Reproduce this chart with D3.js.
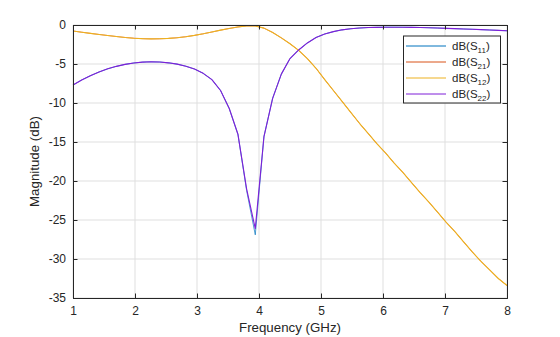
<!DOCTYPE html>
<html>
<head>
<meta charset="utf-8">
<script src="https://cdn.jsdelivr.net/npm/d3@7/dist/d3.min.js"></script>
<style>
  html, body { margin: 0; padding: 0; background: #fff; }
  svg { display: block; font-family: "Liberation Sans", Arial, Helvetica, sans-serif; }
</style>
</head>
<body>
<svg id="chart" width="560" height="337"></svg>
<script>
// Frequency sweep (GHz)
const freq = [1.00,1.14,1.28,1.42,1.56,1.70,1.84,1.98,2.12,2.26,2.40,2.54,2.68,2.82,2.96,3.10,3.24,3.38,3.52,3.66,
              3.80,3.94,4.08,4.22,4.36,4.50,4.64,4.78,4.92,5.06,5.20,5.34,5.48,5.62,5.76,5.90,6.04,6.18,6.32,6.46,
              6.60,6.74,6.88,7.02,7.16,7.30,7.44,7.58,7.72,7.86,8.00];

// Reflection, port 1 (dB)
const s11 = [-7.70,-7.05,-6.50,-6.02,-5.62,-5.30,-5.05,-4.87,-4.76,-4.72,-4.75,-4.85,-5.02,-5.28,-5.65,-6.20,-7.00,-8.40,-10.70,-14.00,
             -21.20,-26.90,-14.30,-9.40,-6.30,-4.30,-3.20,-2.30,-1.60,-1.15,-0.85,-0.62,-0.48,-0.39,-0.33,-0.30,-0.28,-0.28,-0.29,-0.30,
             -0.32,-0.35,-0.39,-0.43,-0.47,-0.51,-0.55,-0.59,-0.64,-0.69,-0.74];

// Transmission 2 -> 1 (dB)
const s21 = [-0.77,-0.92,-1.07,-1.21,-1.35,-1.48,-1.60,-1.69,-1.75,-1.78,-1.77,-1.72,-1.63,-1.50,-1.33,-1.13,-0.90,-0.66,-0.44,-0.25,
             -0.12,-0.12,-0.40,-0.95,-1.65,-2.40,-3.25,-4.30,-5.55,-7.00,-8.40,-9.80,-11.20,-12.60,-13.90,-15.20,-16.40,-17.70,-18.90,-20.20,
             -21.50,-22.70,-24.00,-25.30,-26.50,-27.80,-29.10,-30.30,-31.40,-32.50,-33.40];

// Transmission 1 -> 2 (dB)
const s12 = [-0.77,-0.92,-1.07,-1.21,-1.35,-1.48,-1.60,-1.69,-1.75,-1.78,-1.77,-1.72,-1.63,-1.50,-1.33,-1.13,-0.90,-0.66,-0.44,-0.25,
             -0.12,-0.12,-0.40,-0.95,-1.65,-2.40,-3.25,-4.30,-5.55,-7.00,-8.40,-9.80,-11.20,-12.60,-13.90,-15.20,-16.40,-17.70,-18.90,-20.20,
             -21.50,-22.70,-24.00,-25.30,-26.50,-27.80,-29.10,-30.30,-31.40,-32.50,-33.40];

// Reflection, port 2 (dB)
const s22 = [-7.70,-7.05,-6.50,-6.02,-5.62,-5.30,-5.05,-4.87,-4.76,-4.72,-4.75,-4.85,-5.02,-5.28,-5.65,-6.20,-7.00,-8.40,-10.70,-14.00,
             -21.00,-26.10,-14.30,-9.40,-6.30,-4.30,-3.20,-2.30,-1.60,-1.15,-0.85,-0.62,-0.48,-0.39,-0.33,-0.30,-0.28,-0.28,-0.29,-0.30,
             -0.32,-0.35,-0.39,-0.43,-0.47,-0.51,-0.55,-0.59,-0.64,-0.69,-0.74];

const xTicks = [1, 2, 3, 4, 5, 6, 7, 8];
const yTicks = [0, -5, -10, -15, -20, -25, -30, -35];

const seriesSubs = ["11", "21", "12", "22"];
const seriesColors = ["#0072BD", "#D95319", "#EDB120", "#7E1FD8"];
const seriesValues = [s11, s21, s12, s22];
// later traces sit on top of the earlier ones they coincide with
const seriesWidths = [0.7, 0.7, 1.1, 1.1];

const svg = d3.select("#chart");
const margin = { left: 73, right: 53, top: 25, bottom: 39 };
const W = 560, H = 337;
const x = d3.scaleLinear().domain([1, 8]).range([margin.left, W - margin.right]);
const y = d3.scaleLinear().domain([-35, 0]).range([H - margin.bottom, margin.top]);

const axisColor = "#262626";
const tickLen = 4.5;

// grid
const grid = svg.append("g");
grid.selectAll("line.gx").data(xTicks).join("line")
  .attr("x1", d => x(d)).attr("x2", d => x(d))
  .attr("y1", y(-35)).attr("y2", y(0))
  .attr("stroke", "#dfdfdf").attr("stroke-width", 1);
grid.selectAll("line.gy").data(yTicks).join("line")
  .attr("y1", d => y(d)).attr("y2", d => y(d))
  .attr("x1", x(1)).attr("x2", x(8))
  .attr("stroke", "#dfdfdf").attr("stroke-width", 1);

// curves
const line = d3.line().x((d, i) => x(freq[i])).y(d => y(d));
const curves = svg.append("g");
seriesValues.forEach((vals, k) => {
  curves.append("path")
    .datum(vals)
    .attr("d", line)
    .attr("fill", "none")
    .attr("stroke", seriesColors[k])
    .attr("stroke-width", seriesWidths[k])
    .attr("stroke-linejoin", "round");
});

// axes (ticks pointing inward, box on all sides)
const xAxisB = d3.axisBottom(x).tickValues(xTicks).tickSize(-tickLen).tickPadding(8).tickFormat(d3.format("d"));
const xAxisT = d3.axisTop(x).tickValues(xTicks).tickSize(-tickLen).tickFormat("");
const yAxisL = d3.axisLeft(y).tickValues(yTicks).tickSize(-tickLen).tickPadding(7).tickFormat(d => d === 0 ? "0" : "-" + Math.abs(d));
const yAxisR = d3.axisRight(y).tickValues(yTicks).tickSize(-tickLen).tickFormat("");

function styleAxis(g) {
  g.selectAll(".domain").attr("stroke", axisColor).attr("stroke-width", 1);
  g.selectAll(".tick line").attr("stroke", axisColor).attr("stroke-width", 1);
  g.selectAll(".tick text").attr("fill", axisColor)
    .style("font-size", "12px").style("font-family", "'Liberation Sans', Arial, sans-serif");
}
svg.append("g").attr("transform", `translate(0,${y(-35)})`).call(xAxisB).call(styleAxis);
svg.append("g").attr("transform", `translate(0,${y(0)})`).call(xAxisT).call(styleAxis);
svg.append("g").attr("transform", `translate(${x(1)},0)`).call(yAxisL).call(styleAxis);
svg.append("g").attr("transform", `translate(${x(8)},0)`).call(yAxisR).call(styleAxis);

// axis labels
svg.append("text")
  .attr("x", (x(1) + x(8)) / 2).attr("y", 332)
  .attr("text-anchor", "middle").attr("fill", axisColor)
  .style("font-size", "13.3px").text("Frequency (GHz)");
svg.append("text")
  .attr("transform", `translate(39,${(y(0) + y(-35)) / 2}) rotate(-90)`)
  .attr("text-anchor", "middle").attr("fill", axisColor)
  .style("font-size", "13.3px").text("Magnitude (dB)");

// legend
const lg = svg.append("g");
const lgX = 403.5, lgY = 36, lgW = 97, lgH = 67;
lg.append("rect").attr("x", lgX).attr("y", lgY).attr("width", lgW).attr("height", lgH)
  .attr("fill", "#fff").attr("stroke", axisColor).attr("stroke-width", 1);
seriesSubs.forEach((sub, k) => {
  const ry = 46 + k * 16;
  lg.append("line").attr("x1", 406).attr("x2", 446).attr("y1", ry).attr("y2", ry)
    .attr("stroke", seriesColors[k]).attr("stroke-width", 1);
  const t = lg.append("text").attr("x", 452).attr("y", ry + 4)
    .attr("fill", axisColor).style("font-size", "11.5px");
  t.append("tspan").text("dB(S");
  t.append("tspan").attr("dy", 2.5).style("font-size", "8px").text(sub);
  t.append("tspan").attr("dy", -2.5).text(")");
});
</script>
</body>
</html>
